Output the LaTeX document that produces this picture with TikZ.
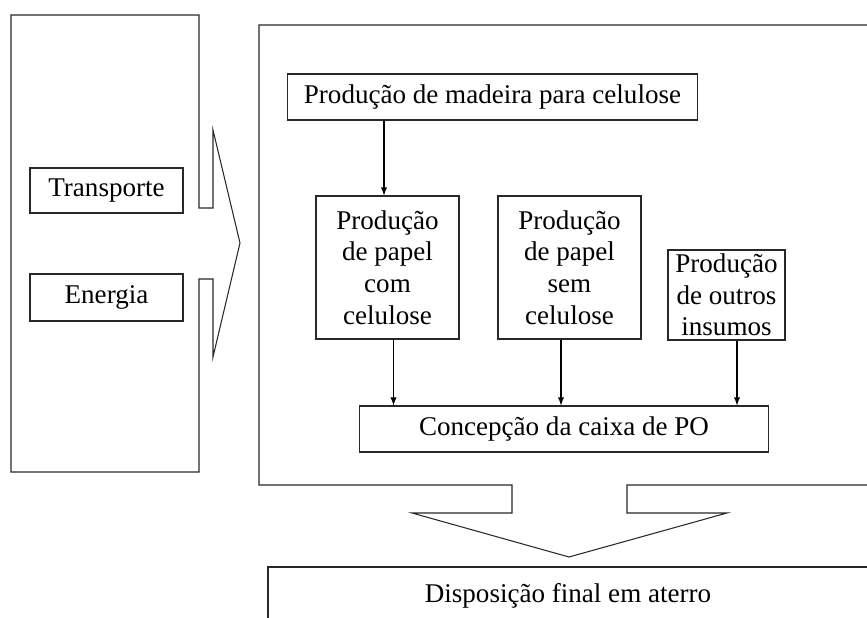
\documentclass[tikz,border=0pt]{standalone}
\usepackage{fontspec}
\setmainfont{Liberation Serif}
\usepackage{tikz}
\usetikzlibrary{arrows,positioning}
\definecolor{linha}{RGB}{40,40,40}
\tikzstyle{caixa} = [draw=linha, line width=0.6pt, align=center, inner sep=2pt, font=\fontsize{15.4}{18}\selectfont]
\tikzstyle{seta} = [->, >=latex, line width=0.6pt, color=black]
\tikzstyle{bloco} = [draw=linha, line width=0.6pt, line join=miter]

\begin{document}
\begin{tikzpicture}[x=0.02cm, y=-0.02cm]
\useasboundingbox (0,0) rectangle (867,618);
\clip (0,0) rectangle (867,618);

% Left block with arrow
\draw[bloco] (11,15) -- (199,15) -- (199,208) -- (213,208) -- (213,130) -- (240,243)
  -- (213,357) -- (213,279) -- (199,279) -- (199,472) -- (11,472) -- cycle;
\node[caixa, minimum width=3.06cm, minimum height=0.9cm] (transp) at (106.5,190.5) {Transporte};
\node[caixa, minimum width=3.06cm, minimum height=0.94cm] (energ) at (106.5,297.5) {Energia};

% Main block with arrow down
\draw[bloco] (880,25) -- (259,25) -- (259,485) -- (512,485) -- (512,513) -- (412,513)
  -- (569,557) -- (727,513) -- (627,513) -- (627,485) -- (880,485);

% Boxes
\node[caixa, minimum width=8.22cm, minimum height=0.92cm] (madeira) at (492.5,97) {Produção de madeira para celulose};
\node[caixa, minimum width=2.86cm, minimum height=2.86cm] (pcom) at (387.5,267.5) {Produção\\de papel\\com\\celulose};
\node[caixa, minimum width=2.86cm, minimum height=2.86cm] (psem) at (569.5,267.5) {Produção\\de papel\\sem\\celulose};
\node[caixa, minimum width=2.34cm, minimum height=1.8cm] (pout) at (726.5,295) {Produção\\de outros\\insumos};
\node[caixa, minimum width=8.2cm, minimum height=0.92cm] (conc) at (564,429) {Concepção da caixa de PO};

% Arrows
\draw[seta] ([xshift=-0.07cm]pcom.north |- madeira.south) -- ([xshift=-0.07cm]pcom.north);
\draw[seta] ([xshift=0.12cm]pcom.south) -- ([xshift=0.12cm]pcom.south |- conc.north);
\draw[seta] ([xshift=-0.17cm]psem.south) -- ([xshift=-0.17cm]psem.south |- conc.north);
\draw[seta] ([xshift=0.21cm]pout.south) -- ([xshift=0.21cm]pout.south |- conc.north);

% Final disposal
\draw[bloco] (880,567) -- (268,567) -- (268,630);
\node[font=\fontsize{15.4}{18}\selectfont] (dispo) at (568,596) {Disposição final em aterro};
\end{tikzpicture}
\end{document}
